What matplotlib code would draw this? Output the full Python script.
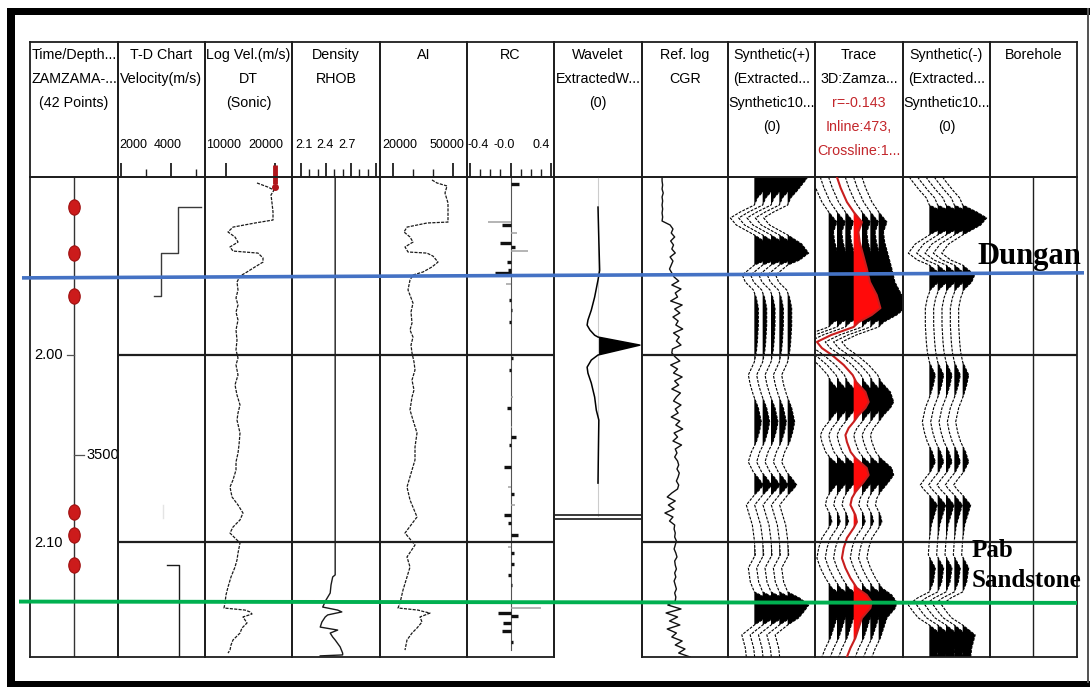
import numpy as np
import matplotlib
matplotlib.use('Agg')
import matplotlib.pyplot as plt
from matplotlib.path import Path
from matplotlib.patches import Rectangle
from matplotlib.transforms import blended_transform_factory as blend

plt.rcParams['font.family'] = ['Liberation Sans', 'DejaVu Sans']

W, H = 1092, 687
T_TOP, T_BOT = 1904.8, 2161.5          # display window (ms TWT)

# ---------------- well tie data ----------------
checkshot_t = [1920.9, 1945.5, 1968.4, 2084.0, 2096.3, 2112.3]

# T-D chart interval velocity (m/s)
td_upper_t = [1920.9, 1920.9, 1945.5, 1945.5, 1968.4, 1968.4]
td_upper_v = [5200, 4280, 4280, 3600, 3600, 3320]
td_faint_t = [2080.2, 2087.2]
td_faint_v = [3668, 3668]
td_lower_t = [2112.3, 2112.3, 2161.5]
td_lower_v = [3840, 4320, 4320]

# sonic log shown as velocity (m/s)
dt_t = [1908.0, 1910.2, 1911.8, 1914.4, 1918.7, 1923.5, 1927.8, 1929.4, 1931.6, 1934.2,
        1936.9, 1939.6, 1942.2, 1944.4, 1945.5, 1948.1, 1950.3, 1952.9, 1955.6, 1957.8,
        1961.0, 1965.2, 1969.5, 1973.3, 1977.0, 1981.3, 1986.6, 1992.0, 1997.3, 2001.6,
        2005.3, 2010.7, 2016.0, 2021.4, 2026.7, 2031.0, 2034.8, 2041.7, 2048.1, 2052.4,
        2057.2, 2061.5, 2066.8, 2070.6, 2075.9, 2080.2, 2084.5, 2088.2, 2092.0, 2095.2,
        2097.9, 2100.5, 2105.9, 2109.6, 2113.4, 2118.7, 2124.1, 2128.3, 2132.6, 2135.3,
        2136.4, 2137.4, 2138.5, 2140.1, 2143.3, 2146.0, 2148.7, 2152.4, 2155.1, 2157.8,
        2159.4]
dt_v = [16327, 18571, 19796, 19184, 19388, 19592, 19592, 15918, 11429, 10408,
        11837, 12449, 10816, 11429, 16531, 17551, 17551, 15918, 14286, 12857,
        12245, 12449, 12041, 12449, 12041, 12449, 12041, 12245, 12041, 12449,
        12041, 12449, 11837, 12245, 12857, 12449, 12245, 12857, 12653, 12449,
        12041, 12041, 11429, 10816, 11224, 12449, 13469, 12857, 11429, 10816,
        11837, 12857, 12449, 12245, 11837, 11020, 10408, 10000, 9796, 9592,
        13878, 14898, 15306, 13469, 14286, 13265, 12857, 11429, 11020, 10816,
        10408]

# bulk density (g/cc)
rhob_t = [1904.8, 2117.6, 2118.7, 2123.0, 2127.3, 2131.0, 2134.8, 2136.4, 2137.4, 2139.0,
          2140.1, 2142.8, 2145.5, 2147.1, 2148.7, 2150.8, 2152.4, 2156.1, 2159.4, 2160.4,
          2160.9]
rhob = [2.51, 2.51, 2.48, 2.46, 2.45, 2.40, 2.36, 2.54, 2.59, 2.42,
        2.39, 2.35, 2.33, 2.54, 2.45, 2.48, 2.51, 2.57, 2.60, 2.60,
        2.33]

# acoustic impedance
ai_t = [1906.4, 1908.0, 1909.6, 1913.4, 1918.7, 1928.9, 1929.4, 1931.6, 1934.2, 1936.9,
        1939.6, 1942.2, 1944.9, 1945.5, 1947.1, 1950.3, 1952.9, 1955.6, 1957.2, 1959.9,
        1965.2, 1972.2, 1977.0, 1982.9, 1986.6, 1990.4, 1994.7, 1998.9, 2003.7, 2008.0,
        2013.4, 2018.7, 2022.5, 2029.4, 2034.8, 2041.7, 2049.2, 2056.1, 2061.5, 2070.6,
        2077.5, 2086.6, 2095.2, 2101.6, 2108.0, 2113.4, 2118.7, 2125.7, 2132.6, 2135.3,
        2136.4, 2137.4, 2138.0, 2140.1, 2142.8, 2146.0, 2148.7, 2152.4, 2157.8]
ai = [39500, 42000, 47000, 46000, 47500, 47500, 37000, 27000, 25500, 28500,
      30000, 26000, 27500, 37000, 40000, 42500, 39500, 35000, 30000, 28500,
      27500, 30000, 29000, 29500, 28500, 30000, 29000, 29500, 30500, 31000,
      29500, 30500, 29500, 28500, 30000, 32000, 31000, 31000, 29500, 27000,
      28500, 32000, 26000, 31000, 27000, 28500, 27000, 25000, 23500, 22500,
      32500, 36000, 38500, 33500, 34500, 32000, 29500, 27000, 26000]

# reflection coefficients (strong / weak spikes)
rc_t = [1908.6, 1930.5, 1940.1, 1942.2, 1950.3, 1954.5, 1956.1, 1970.6, 1975.9, 1982.4,
        2001.6, 2008.0, 2028.3, 2043.9, 2048.1, 2059.9, 2074.3, 2085.6, 2089.8, 2096.3,
        2105.9, 2111.8, 2117.6, 2123.0, 2138.0, 2139.6, 2143.3, 2147.6, 2153.5]
rc = [0.08, -0.08, -0.10, 0.04, -0.03, -0.02, -0.15, -0.01, 0.01, -0.01,
      0.02, -0.01, -0.03, 0.05, -0.01, -0.06, 0.03, -0.06, -0.02, 0.07,
      0.03, 0.03, -0.02, 0.01, -0.12, 0.07, -0.07, -0.08, 0.02]
rc_weak_t = [1928.9, 1934.8, 1944.4, 1962.0, 2022.5, 2038.5, 2070.6, 2080.2, 2102.7, 2135.3]
rc_weak = [-0.22, 0.06, 0.17, -0.04, 0.02, 0.01, -0.02, 0.04, -0.02, 0.30]

# extracted wavelet (time relative to its peak, ms)
wav_t0 = 1994.7
wav_dt = [-73.8, -56.0, -40.0, -34.8, -25.7, -18.7, -13.4, -10.7, -8.0, -5.3, -4.3, 0.0,
          5.3, 8.0, 11.8, 15.0, 20.3, 27.8, 34.8, 40.1, 56.0, 73.8]
wav_a = [0.0, 0.02, 0.04, 0.0, -0.08, -0.16, -0.24, -0.26, -0.19, -0.08, 0.0, 1.0,
         0.0, -0.16, -0.26, -0.24, -0.16, -0.08, -0.04, 0.02, 0.01, 0.0]

# CGR reference log (API), 121 samples over the window
cgr = [35, 35, 36, 35, 37, 35, 36, 35, 36, 35, 36, 35,
       49, 54, 51, 57, 50, 55, 52, 58, 49, 54, 51, 48, 52,
       56, 64, 52, 68, 58, 62, 50, 70, 57, 66, 54, 63, 59, 71, 55, 65, 60, 68, 53, 52,
       58, 66, 50, 62, 55, 70, 57, 64, 52, 67, 60, 55, 68, 58, 63, 51, 66, 59, 71, 56,
       62, 54, 69, 58, 61, 57,
       62, 64, 61, 65, 63, 60, 64, 62,
       52, 44, 58, 46, 56, 40, 54, 48, 57,
       56, 58, 57, 60, 58, 56, 59, 61, 57, 58, 60, 57, 59, 56, 58, 60, 57, 59, 58,
       45, 68, 42, 62, 48, 66, 44, 60, 52, 70, 58, 75, 64, 84]
cgr_t = np.linspace(T_TOP, T_BOT, len(cgr))

# synthetic seismogram (normalised amplitude)
syn_t = [1904.8, 1906.4, 1911.8, 1916.0, 1919.8, 1923.5, 1926.7, 1930.5, 1935.8, 1940.6,
         1945.5, 1949.2, 1951.9, 1957.2, 1961.0, 1965.2, 1969.5, 1974.9, 1984.0, 1993.0,
         1998.4, 2003.7, 2010.7, 2016.0, 2021.4, 2028.3, 2035.8, 2041.2, 2046.5, 2051.9,
         2057.2, 2062.6, 2065.8, 2069.5, 2072.2, 2074.9, 2080.2, 2085.6, 2090.9, 2098.9,
         2106.9, 2113.9, 2121.4, 2126.7, 2130.0, 2133.7, 2137.4, 2140.6, 2144.4, 2149.7,
         2156.7, 2161.5]
syn = [0.80, 0.72, 0.40, 0.12, 0.0, -0.56, -0.96, -0.72, 0.0, 0.56,
       0.84, 0.48, 0.0, -0.48, -0.36, -0.04, 0.08, 0.16, 0.16, 0.12,
       0.08, 0.0, -0.24, -0.16, -0.04, 0.16, 0.28, 0.20, 0.08, -0.12,
       -0.24, -0.04, 0.16, 0.36, 0.20, 0.0, -0.32, -0.20, -0.08, 0.0,
       0.04, -0.24, -0.16, 0.0, 0.48, 0.84, 0.64, 0.44, 0.0, -0.50,
       -0.36, -0.32]

# seismic trace at the well (normalised amplitude)
seis_t = [1904.8, 1910.7, 1918.2, 1923.5, 1928.9, 1934.2, 1939.6, 1946.5, 1953.5, 1961.0,
          1967.9, 1974.9, 1978.6, 1982.4, 1985.0, 1989.3, 1993.0, 1996.3, 2000.0, 2005.3,
          2010.7, 2014.4, 2019.8, 2025.1, 2028.3, 2032.1, 2035.8, 2039.0, 2042.8, 2046.5,
          2051.9, 2055.1, 2060.4, 2064.2, 2067.9, 2073.3, 2076.5, 2080.2, 2085.6, 2089.3,
          2092.5, 2097.9, 2103.2, 2108.6, 2113.9, 2119.3, 2124.6, 2128.3, 2132.1, 2135.3,
          2140.6, 2146.0, 2151.3, 2156.7, 2161.5]
seis = [-0.67, -0.52, -0.27, 0.0, 0.33, 0.19, 0.24, 0.38, 0.52, 0.65,
        0.92, 1.07, 0.72, 0.20, 0.0, -0.90, -1.47, -1.27, -0.87, -0.40,
        -0.04, 0.10, 0.47, 0.60, 0.47, 0.20, 0.0, -0.20, -0.33, -0.27,
        -0.12, 0.07, 0.52, 0.60, 0.40, 0.07, -0.07, -0.13, 0.07, 0.13,
        0.0, -0.27, -0.40, -0.47, -0.33, -0.13, 0.13, 0.52, 0.72, 0.67,
        0.33, 0.20, 0.07, -0.13, -0.27]

# interpreted horizons (ms at left / right end of the panel)
dungan_t = [1958.8, 1956.1]
pab_t = [2131.9, 2132.6]

headers = [["Time/Depth...", "ZAMZAMA-...", "(42 Points)"],
           ["T-D Chart", "Velocity(m/s)"],
           ["Log Vel.(m/s)", "DT", "(Sonic)"],
           ["Density", "RHOB"],
           ["AI"],
           ["RC"],
           ["Wavelet", "ExtractedW...", "(0)"],
           ["Ref. log", "CGR"],
           ["Synthetic(+)", "(Extracted...", "Synthetic10...", "(0)"],
           ["Trace", "3D:Zamza...", "r=-0.143", "Inline:473,", "Crossline:1..."],
           ["Synthetic(-)", "(Extracted...", "Synthetic10...", "(0)"],
           ["Borehole"]]

# ---------------- layout ----------------
edges = [30, 118, 205, 292, 380, 467, 554, 642, 728, 815, 903, 990, 1077]
Y_HEAD, Y_DATA, Y_END = 42, 177, 657
EDGE_C = '#1e1e1e'
RED_TXT = '#c3262b'
FS_HEAD = 10.3
FS_SCALE = 9.0


def rect(x0, x1, y0, y1):
    return [x0 / W, 1 - y1 / H, (x1 - x0) / W, (y1 - y0) / H]


fig = plt.figure(figsize=(W / 100, H / 100), dpi=100)

# scale settings for columns that carry one: xlim, major, minor, label (x, text)
scales = {
    1: ((1880, 5360), [2000, 4000], [3000, 5000], [(2480, '2000'), (3880, '4000')]),
    2: ((5714, 23469), [10000, 20000], [], [(9592, '10000'), (18163, '20000')]),
    3: ((1.99, 3.05), [2.1, 2.4, 2.7, 3.0], [2.2, 2.3, 2.5, 2.6, 2.8, 2.9],
        [(2.13, '2.1'), (2.39, '2.4'), (2.652, '2.7')]),
    4: ((13500, 57000), [20000, 50000], [30000, 40000], [(23300, '20000'), (47000, '50000')]),
    5: ((-0.43, 0.43), [-0.4, 0.0, 0.4], [-0.3, -0.2, -0.1, 0.1, 0.2, 0.3],
        [(-0.32, '-0.4'), (-0.059, '-0.0'), (0.3, '0.4')]),
}
xlims = {0: (0, 1), 6: (-1.05, 1.05), 7: (0, 150), 8: (-3.16, 7.28),
         9: (-1.64, 8.92), 10: (-3.16, 7.28), 11: (0, 1)}

head_axes, data_axes = [], []
for i in range(12):
    x0, x1 = edges[i], edges[i + 1]
    hax = fig.add_axes(rect(x0, x1, Y_HEAD, Y_DATA))
    dax = fig.add_axes(rect(x0, x1, Y_DATA, Y_END))
    lim = scales[i][0] if i in scales else xlims[i]
    for a in (hax, dax):
        a.set_facecolor('none')
        a.set_xlim(*lim)
        a.set_yticks([])
        for s in a.spines.values():
            s.set_linewidth(1.3)
            s.set_color(EDGE_C)
    hax.set_ylim(0, 1)
    dax.set_ylim(T_BOT, T_TOP)
    dax.set_xticks([])
    if i in scales:
        _, major, minor, labels = scales[i]
        hax.set_xticks(major)
        hax.set_xticks(minor, minor=True)
        hax.tick_params(axis='x', which='major', direction='in', length=10, width=1.3,
                        color=EDGE_C, labelbottom=False)
        hax.tick_params(axis='x', which='minor', direction='in', length=6, width=1.0,
                        color=EDGE_C)
        for xv, txt in labels:
            hax.text(xv, (Y_DATA - 145) / 135, txt, ha='center', va='center',
                     fontsize=FS_SCALE, transform=blend(hax.transData, hax.transAxes))
    else:
        hax.set_xticks([])
    for k, line in enumerate(headers[i]):
        col = RED_TXT if (i == 9 and k >= 2) else 'black'
        hax.text(0.5, (Y_DATA - (55 + 24 * k)) / 135, line, ha='center', va='center',
                 fontsize=FS_HEAD, color=col, transform=hax.transAxes)
    head_axes.append(hax)
    data_axes.append(dax)

# horizontal time lines at 2.00 / 2.10 s
for i, a in enumerate(data_axes):
    if i in (0, 6):
        continue
    for tl in (2000, 2100):
        a.axhline(tl, color=EDGE_C, lw=1.6, zorder=6)

# --- Time/Depth track ---
ax = data_axes[0]
ax.axvline(0.5, color='#333333', lw=1.0)
ell = Path.unit_circle()
ell = Path(ell.vertices * [0.75, 1.0], ell.codes)
ax.plot([0.5] * len(checkshot_t), checkshot_t, ls='none', marker=ell, ms=11,
        mfc='#cc1b1b', mec='#9e1010', mew=0.8, zorder=4)
ax.plot([0.42, 0.5], [2000, 2000], color='#555555', lw=0.9)
ax.text(0.37, 2000, '2.00', ha='right', va='center', fontsize=10.5)
ax.text(0.37, 2100.5, '2.10', ha='right', va='center', fontsize=10.5)
ax.plot([0.5, 0.61], [2053.5, 2053.5], color='#555555', lw=0.9)
ax.text(0.645, 2053.5, '3500', ha='left', va='center', fontsize=10.5)

# --- T-D chart ---
ax = data_axes[1]
ax.plot(td_upper_v, td_upper_t, color='#3a3a3a', lw=1.0)
ax.plot(td_faint_v, td_faint_t, color='#e4e4e4', lw=1.0)
ax.plot(td_lower_v, td_lower_t, color='#1a1a1a', lw=1.0)

# --- sonic ---
ax = data_axes[2]
ax.plot(dt_v, dt_t, color='#1a1a1a', lw=0.9, ls=(0, (2.5, 1)))
ax.plot([20000, 20000], [T_TOP, 1908.6], color='#b0151b', lw=3.5, solid_capstyle='butt')
ax.plot([20000], [1910.2], marker='o', ms=4, color='#b0151b')
head_axes[2].plot([20000, 20000], [0, 0.09], color='#b0151b', lw=3.5, solid_capstyle='butt')

# --- density ---
ax = data_axes[3]
ax.plot(rhob, rhob_t, color='#1a1a1a', lw=1.0)

# --- AI ---
ax = data_axes[4]
ax.plot(ai, ai_t, color='#1a1a1a', lw=0.9, ls=(0, (2.5, 1)))

# --- RC ---
ax = data_axes[5]
ax.plot([0, 0], [T_TOP, 2157.8], color='#555555', lw=0.8)
ax.hlines(rc_weak_t, 0, rc_weak, color='#a0a0a0', lw=1.1)
ax.hlines(rc_t, 0, rc, color='#111111', lw=2.4)

# --- wavelet ---
ax = data_axes[6]
ax.spines['bottom'].set_visible(False)
ax.plot([0, 0], [T_TOP, 2086.0], color='#cccccc', lw=0.8)
wt = wav_t0 + np.array(wav_dt)
wa = np.array(wav_a)
ax.fill_betweenx(wt, 0, wa, where=wa > 0, interpolate=True, color='black', lw=0)
ax.plot(wa, wt, color='black', lw=1.1)
for tl in (2085.6, 2087.6):
    ax.axhline(tl, color='#2a2a2a', lw=1.3)

# --- CGR ---
ax = data_axes[7]
ax.plot(cgr, cgr_t, color='#111111', lw=1.0)


# --- wiggle traces ---
def wiggle(ax, t, amp, base, gain, color, fill, lw, ls, z):
    t = np.asarray(t)
    amp = np.asarray(amp)
    x = base + gain * amp
    ax.fill_betweenx(t, base, x, where=amp > 0, interpolate=True, color=fill, lw=0,
                     zorder=z)
    ax.plot(x, t, color=color, lw=lw, ls=ls, zorder=z + 0.5)


GAIN = 3.0
for k in range(5):
    wiggle(data_axes[8], syn_t, syn, k, GAIN, 'black', 'black', 0.8, (0, (2.5, 1.2)), 2)
    wiggle(data_axes[10], syn_t, -np.array(syn), k, GAIN, 'black', 'black', 0.8,
           (0, (2.5, 1.2)), 2)
for k in range(7):
    if k == 3:
        continue
    wiggle(data_axes[9], seis_t, seis, k, GAIN, 'black', 'black', 0.8, (0, (2.5, 1.2)), 2)
wiggle(data_axes[9], seis_t, seis, 3, GAIN, '#c81e1e', '#ff0a0a', 1.5, '-', 3)

# --- borehole ---
data_axes[11].axvline(0.494, color=EDGE_C, lw=1.0)

# --- horizons drawn across the whole panel ---
ov = fig.add_axes([0, 0, 1, 1], zorder=10)
ov.set_xlim(0, 1)
ov.set_ylim(1810.2 + 687 / 1.870, 1810.2)
ov.axis('off')
ov.plot([22 / W, 1084 / W], dungan_t, color='#4472c4', lw=2.6, solid_capstyle='butt')
ov.plot([19 / W, 1077 / W], pab_t, color='#00b050', lw=2.8, solid_capstyle='butt')

serif = dict(family=['Liberation Serif', 'DejaVu Serif'], weight='bold')
fig.text(977 / W, 1 - 264 / H, 'Dungan', fontsize=22, va='baseline', ha='left', **serif)
fig.text(972 / W, 1 - 557 / H, 'Pab', fontsize=18, va='baseline', ha='left', **serif)
fig.text(972 / W, 1 - 587 / H, 'Sandstone', fontsize=18, va='baseline', ha='left', **serif)

# outer frame
for (x0, y0, w, h, c) in [(7, 8, 1083, 7, 'black'), (7, 8, 8, 679, 'black'),
                          (7, 681, 1083, 6, 'black'), (1087, 8, 2, 675, '#555555')]:
    fig.add_artist(Rectangle((x0 / W, 1 - (y0 + h) / H), w / W, h / H,
                             transform=fig.transFigure, color=c, lw=0))

fig.savefig('out.png', dpi=100)
